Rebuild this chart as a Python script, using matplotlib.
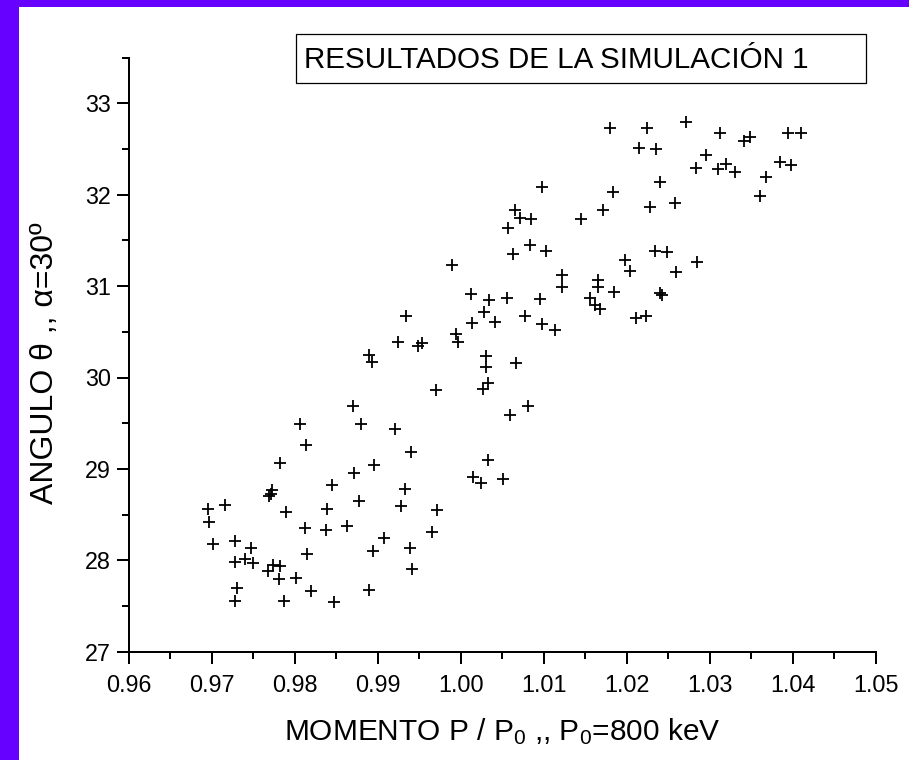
import matplotlib
matplotlib.use("Agg")
import matplotlib.pyplot as plt
from matplotlib import font_manager
from matplotlib.patches import Rectangle
from matplotlib.ticker import FixedLocator, MultipleLocator

# ---------------- data ----------------
momento = [
    0.9924, 0.9953, 0.9948, 0.9890, 0.9893, 0.9970, 0.9870, 0.9806, 0.9880, 0.9921,
    0.9814, 0.9940, 0.9782, 0.9895, 0.9872, 0.9845, 0.9933, 0.9773, 0.9771, 0.9769,
    0.9696, 0.9716, 0.9697, 0.9789, 0.9839, 0.9877, 0.9928, 0.9971, 0.9812, 0.9838,
    0.9863, 0.9965, 0.9701, 0.9728, 0.9747, 0.9728, 0.9740, 0.9750, 0.9768, 0.9774,
    0.9782, 0.9781, 0.9802, 0.9815, 0.9730, 0.9728, 0.9787, 0.9820, 0.9847, 0.9890,
    0.9894, 0.9908, 0.9939, 0.9941, 0.9934,
    1.0098, 1.0065, 1.0071, 1.0085, 1.0057, 1.0145, 1.0083, 1.0063, 1.0103, 0.9990,
    1.0122, 1.0122, 1.0156, 1.0162, 1.0012, 1.0034, 1.0056, 1.0096, 1.0028, 1.0014,
    1.0041, 1.0077, 1.0098, 1.0114, 0.9994, 0.9997, 1.0030, 1.0030, 1.0067, 1.0033,
    1.0027, 1.0081, 1.0060, 1.0033, 1.0015, 1.0024, 1.0051,
    1.0180, 1.0225, 1.0272, 1.0312, 1.0341, 1.0349, 1.0394, 1.0410, 1.0215, 1.0235,
    1.0295, 1.0284, 1.0310, 1.0320, 1.0331, 1.0385, 1.0398, 1.0368, 1.0361, 1.0240,
    1.0183, 1.0172, 1.0228, 1.0258, 1.0234, 1.0248, 1.0285, 1.0198, 1.0204, 1.0259,
    1.0166, 1.0166, 1.0185, 1.0168, 1.0240, 1.0243, 1.0211, 1.0223,
]
angulo = [
    30.39, 30.38, 30.34, 30.25, 30.17, 29.86, 29.69, 29.49, 29.49, 29.44,
    29.26, 29.18, 29.07, 29.04, 28.95, 28.82, 28.78, 28.77, 28.73, 28.70,
    28.56, 28.61, 28.42, 28.53, 28.56, 28.65, 28.59, 28.55, 28.35, 28.33,
    28.38, 28.31, 28.18, 28.21, 28.13, 27.98, 28.01, 27.97, 27.88, 27.95,
    27.94, 27.79, 27.81, 28.07, 27.70, 27.55, 27.56, 27.66, 27.54, 27.68,
    28.10, 28.24, 28.13, 27.90, 30.67,
    32.08, 31.83, 31.74, 31.73, 31.64, 31.73, 31.45, 31.35, 31.38, 31.23,
    31.12, 30.99, 30.87, 30.79, 30.91, 30.85, 30.87, 30.86, 30.72, 30.60,
    30.61, 30.67, 30.59, 30.52, 30.48, 30.39, 30.24, 30.12, 30.16, 29.94,
    29.87, 29.69, 29.59, 29.10, 28.91, 28.85, 28.89,
    32.73, 32.73, 32.79, 32.67, 32.59, 32.63, 32.67, 32.67, 32.51, 32.50,
    32.43, 32.29, 32.28, 32.34, 32.25, 32.36, 32.32, 32.19, 31.99, 32.14,
    32.03, 31.83, 31.86, 31.91, 31.38, 31.37, 31.26, 31.29, 31.17, 31.15,
    31.07, 30.99, 30.93, 30.75, 30.92, 30.90, 30.65, 30.67,
]
x_ticks = [0.96, 0.97, 0.98, 0.99, 1.00, 1.01, 1.02, 1.03, 1.04, 1.05]
x_tick_labels = ["0.96", "0.97", "0.98", "0.99", "1.00", "1.01", "1.02", "1.03", "1.04", "1.05"]
y_ticks = [27, 28, 29, 30, 31, 32, 33]
y_tick_labels = ["27", "28", "29", "30", "31", "32", "33"]
title_text = "RESULTADOS DE LA SIMULACIÓN 1"
x_label = r"MOMENTO P / P$_\mathregular{0}$ ,, P$_\mathregular{0}$=800 keV"
y_label = "ANGULO θ ,, α=30º"

# ---------------- style ----------------
plt.rcParams["font.family"] = ["Liberation Sans", "DejaVu Sans"]
plt.rcParams["mathtext.fontset"] = "custom"
plt.rcParams["mathtext.rm"] = "Liberation Sans"
plt.rcParams["mathtext.it"] = "Liberation Sans:italic"
plt.rcParams["mathtext.bf"] = "Liberation Sans:bold"

names = {f.name for f in font_manager.fontManager.ttflist}
if "Liberation Sans Narrow" in names:
    title_family, title_size = ["Liberation Sans Narrow", "Liberation Sans"], 25
else:
    title_family, title_size = ["Liberation Sans", "DejaVu Sans"], 21.3

W, H = 909, 760
fig = plt.figure(figsize=(W / 100, H / 100), dpi=100)
fig.patch.set_facecolor("white")

# purple frame (left and top)
purple = "#6600FF"
fig.add_artist(Rectangle((0, 0), 19 / W, 1, transform=fig.transFigure,
                         facecolor=purple, edgecolor="none", zorder=0))
fig.add_artist(Rectangle((0, 1 - 7 / H), 1, 7 / H, transform=fig.transFigure,
                         facecolor=purple, edgecolor="none", zorder=0))

ax_left, ax_right = 128.7, 875.7
ax_bottom_px, ax_top_px = 651.7, 57.6
ax = fig.add_axes([ax_left / W, 1 - ax_bottom_px / H,
                   (ax_right - ax_left) / W, (ax_bottom_px - ax_top_px) / H])
ax.set_facecolor("none")

ax.plot(momento, angulo, linestyle="none", marker="+", color="black",
        markersize=9, markeredgewidth=1.3, clip_on=False)

ax.set_xlim(0.96, 1.05)
ax.set_ylim(27, 33.5)

for side in ("top", "right"):
    ax.spines[side].set_visible(False)
for side in ("left", "bottom"):
    ax.spines[side].set_linewidth(1.44)

ax.xaxis.set_major_locator(FixedLocator(x_ticks))
ax.set_xticklabels(x_tick_labels)
ax.yaxis.set_major_locator(FixedLocator(y_ticks))
ax.set_yticklabels(y_tick_labels)
ax.xaxis.set_minor_locator(MultipleLocator(0.005))
ax.yaxis.set_minor_locator(MultipleLocator(0.5))

ax.tick_params(axis="both", which="major", direction="out", length=8.3, width=1.44,
               labelsize=16.8, color="black")
ax.tick_params(axis="both", which="minor", direction="out", length=5, width=1.44)
ax.tick_params(axis="x", which="major", pad=7.5)
ax.tick_params(axis="y", which="major", pad=4.3)

ax.set_xlabel(x_label, fontsize=21.5)
ax.xaxis.label.set_va("baseline")
ax.xaxis.set_label_coords(0.5, (H - 740 - (H - ax_bottom_px)) / (ax_bottom_px - ax_top_px))

ax.set_ylabel(y_label, fontsize=23)
ax.yaxis.label.set_va("center")
ax.yaxis.set_label_coords((45.5 - ax_left) / (ax_right - ax_left),
                          (H - 363 - (H - ax_bottom_px)) / (ax_bottom_px - ax_top_px))

# title box
fig.add_artist(Rectangle((295.7 / W, 1 - 83.3 / H), (865.5 - 295.7) / W, (83.3 - 34.3) / H,
                         transform=fig.transFigure, fill=False, edgecolor="black",
                         linewidth=0.9))
fig.text(304.3 / W, 1 - 68 / H, title_text, ha="left", va="baseline",
         fontsize=title_size, family=title_family)

fig.savefig("out.png", dpi=100)
